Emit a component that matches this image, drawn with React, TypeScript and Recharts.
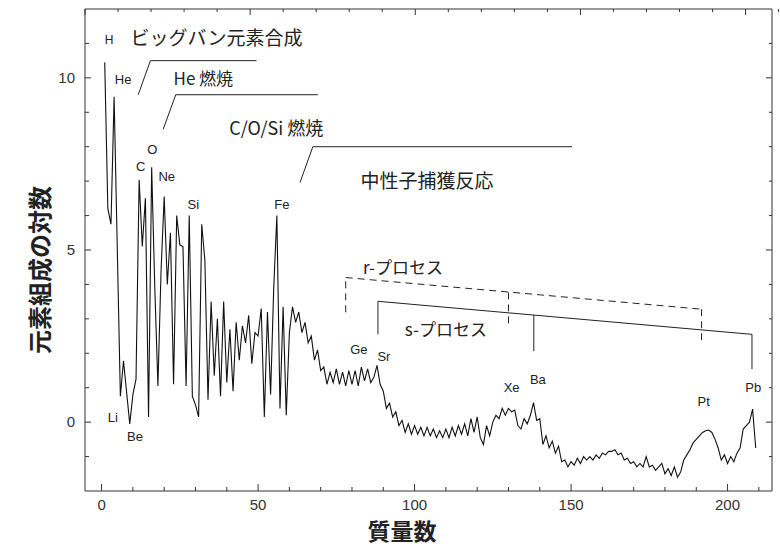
import { LineChart, Line, XAxis, YAxis, ReferenceLine, ReferenceDot, Label } from 'recharts';

// log abundance by mass number (index 0 = A 1); null where no stable nuclide
const LIGHT = [
  10.45, 6.2, 5.75, 9.45, null, 0.75, 1.78, null, -0.05, 0.8,
  1.25, 7.04, 5.1, 6.5, 0.15, 7.4, 3.9, 1.05, 4.4, 6.55,
  4.0, 5.5, 1.1, 6.0, 5.15, 5.1, 1.05, 6.0, 0.75, 0.5,
  0.15, 5.75, 4.7, 0.65, 3.5, 1.35, 3.0, 0.75, 3.5, 1.15,
];
const MID = [
  2.7, 0.9, 2.9, 1.8, 2.8, 2.3, 3.1, 1.7, 2.6, 2.5,
  3.3, 0.15, 3.2, 0.8, 3.9, 6.0, 0.4, 3.35, 0.2, 2.6,
  3.35, 2.9, 3.2, 2.6, 2.9, 2.3, 2.5, 1.8, 2.1, 1.5,
  1.6, 1.1, 1.45, 1.15, 1.55, 1.1, 1.45, 1.05, 1.5, 1.1,
  1.5, 1.05, 1.6, 1.2, 1.55, 1.15, 1.3, 1.65, 1.1, 0.9,
];
const HEAVY = [
  0.4, 0.55, 0.15, 0.3, -0.1, 0.05, -0.3, -0.05, -0.35, -0.1,
  -0.35, -0.15, -0.4, -0.15, -0.4, -0.2, -0.45, -0.25, -0.45, -0.2,
  -0.45, -0.15, -0.4, -0.1, -0.35, -0.05, -0.4, 0.1, -0.3, 0.15,
  -0.45, -0.65, -0.1, -0.4, 0.0, 0.2, 0.1, 0.4, 0.2, 0.4,
  0.3, 0.35, -0.1, -0.2, 0.1, -0.05, 0.2, 0.57, 0.05, 0.1,
  -0.65, -0.4, -0.75, -0.55, -0.9, -0.7, -1.15, -1.1, -1.3, -1.15,
];
const HEAVIEST = [
  -1.25, -1.05, -1.2, -1.0, -1.1, -1.0, -1.1, -0.95, -1.05, -0.9,
  -0.95, -0.85, -0.85, -0.8, -0.95, -0.9, -1.1, -1.05, -1.2, -1.15,
  -1.3, -1.2, -1.3, -1.0, -1.3, -1.25, -1.4, -1.3, -1.2, -1.5,
  -1.35, -1.55, -1.3, -1.6, -1.45, -1.1, -0.95, -0.8, -0.6, -0.5,
  -0.4, -0.3, -0.25, -0.23, -0.3, -0.5, -0.75, -1.1, -0.95, -1.2,
  -1.0, -1.15, -0.9, -0.75, -0.2, -0.1, 0.0, 0.38, -0.75,
];

const X_TICKS = [0, 10, 20, 30, 40, 50, 60, 70, 80, 90, 100, 110, 120, 130, 140, 150, 160, 170, 180, 190, 200, 210];
const Y_TICKS = [-1, 0, 1, 2, 3, 4, 5, 6, 7, 8, 9, 10, 11];

const ELEMENTS = [
  { name: 'H', a: 2.4, v: 11.1, size: 12 },
  { name: 'He', a: 6.9, v: 9.96, size: 13 },
  { name: 'Li', a: 3.6, v: 0.15, size: 13 },
  { name: 'Be', a: 10.7, v: -0.4, size: 13 },
  { name: 'C', a: 12.5, v: 7.42, size: 13 },
  { name: 'O', a: 16.2, v: 7.91, size: 13 },
  { name: 'Ne', a: 20.8, v: 7.14, size: 13 },
  { name: 'Si', a: 29.3, v: 6.32, size: 13 },
  { name: 'Fe', a: 57.6, v: 6.32, size: 13 },
  { name: 'Ge', a: 82.2, v: 2.1, size: 13 },
  { name: 'Sr', a: 90.2, v: 1.9, size: 13 },
  { name: 'Xe', a: 131, v: 1.0, size: 13 },
  { name: 'Ba', a: 139.4, v: 1.25, size: 13 },
  { name: 'Pt', a: 192.4, v: 0.6, size: 13 },
  { name: 'Pb', a: 208.2, v: 1.02, size: 13 },
];

const PROCESSES = [
  { name: 'ビッグバン元素合成', a: 36.7, v: 11.15, size: 19 },
  { name: 'He 燃焼', a: 32.5, v: 9.98, size: 17 },
  { name: 'C/O/Si 燃焼', a: 55.8, v: 8.52, size: 18 },
  { name: '中性子捕獲反応', a: 104, v: 6.99, size: 19 },
  { name: 'r-プロセス', a: 96.3, v: 4.49, size: 17 },
  { name: 's-プロセス', a: 110, v: 2.67, size: 17 },
];

const SOLID_BRACKETS = [
  [[11.7, 9.51], [15.6, 10.5], [49.5, 10.5]],
  [[19.7, 8.51], [23.7, 9.51], [69.1, 9.51]],
  [[63.4, 6.96], [67.5, 8.0], [150.3, 8.0]],
  [[88.3, 2.55], [88.3, 3.51], [207.8, 2.55], [207.8, 1.54]],
  [[138.1, 3.11], [138.1, 2.06]],
];
const DASHED_BRACKETS = [
  [[78, 3.19], [78, 4.2], [191.7, 3.28], [191.7, 2.35]],
  [[130, 3.77], [130, 2.78]],
];

const data = [...LIGHT, ...MID, ...HEAVY, ...HEAVIEST].map((v, i) => ({ a: i + 1, v }));

const LATIN = '"Liberation Sans", Arial, sans-serif';
const CJK = '"Noto Sans CJK JP", sans-serif';
const INK = '#222';

function BottomTick({ x, y, payload }: any) {
  const major = payload.value % 50 === 0;
  return (
    <g>
      <line x1={x} x2={x} y1={y} y2={y - (major ? 7 : 4)} stroke="#333" />
      {major && (
        <text x={x} y={y + 19} textAnchor="middle" fontSize={15} fontFamily={LATIN} fill="#333">
          {payload.value}
        </text>
      )}
    </g>
  );
}

function TopTick({ x, y, payload }: any) {
  const major = payload.value % 50 === 0;
  return <line x1={x} x2={x} y1={y} y2={y + (major ? 6 : 3)} stroke="#333" />;
}

function LeftTick({ x, y, payload }: any) {
  const major = payload.value % 5 === 0;
  return (
    <g>
      <line x1={x} x2={x + (major ? 6 : 4)} y1={y} y2={y} stroke="#333" />
      {major && (
        <text x={x - 10} y={y + 5} textAnchor="end" fontSize={15} fontFamily={LATIN} fill="#333">
          {payload.value}
        </text>
      )}
    </g>
  );
}

function RightTick({ x, y, payload }: any) {
  const major = payload.value % 5 === 0;
  return <line x1={x} x2={x - (major ? 6 : 3)} y1={y} y2={y} stroke="#333" />;
}

function segmentsOf(path: number[][]) {
  const out = [];
  for (let i = 0; i < path.length - 1; i++) {
    out.push([{ x: path[i][0], y: path[i][1] }, { x: path[i + 1][0], y: path[i + 1][1] }]);
  }
  return out;
}

export default function App() {
  return (
    <div style={{ position: 'absolute', left: 0, top: 0, background: '#fff' }}>
      <LineChart width={780} height={548} data={data} margin={{ top: 8, right: 7, bottom: 0, left: 84 }}>
        <XAxis
          xAxisId="b"
          type="number"
          dataKey="a"
          domain={[-5.3, 214.2]}
          allowDataOverflow
          ticks={X_TICKS}
          interval={0}
          height={57}
          tickLine={false}
          tickSize={0}
          tickMargin={0}
          tick={BottomTick}
          axisLine={{ stroke: '#333' }}
        >
          <Label
            content={() => (
              <text x={402} y={540} textAnchor="middle" fontSize={23} fontWeight={700} fontFamily={CJK} fill={INK}>
                質量数
              </text>
            )}
          />
        </XAxis>
        <XAxis
          xAxisId="t"
          orientation="top"
          type="number"
          domain={[-5.3, 214.2]}
          allowDataOverflow
          ticks={X_TICKS}
          interval={0}
          height={1}
          tickLine={false}
          tickSize={0}
          tickMargin={0}
          tick={TopTick}
          axisLine={{ stroke: '#333' }}
        />
        <YAxis
          yAxisId="l"
          type="number"
          domain={[-2, 12]}
          allowDataOverflow
          ticks={Y_TICKS}
          interval={0}
          width={1}
          tickLine={false}
          tickSize={0}
          tickMargin={0}
          tick={LeftTick}
          axisLine={{ stroke: '#333' }}
        >
          <Label
            content={() => (
              <text
                transform="translate(49,270) rotate(-90)"
                textAnchor="middle"
                fontSize={24}
                fontWeight={700}
                fontFamily={CJK}
                fill={INK}
              >
                元素組成の対数
              </text>
            )}
          />
        </YAxis>
        <YAxis
          yAxisId="r"
          orientation="right"
          type="number"
          domain={[-2, 12]}
          allowDataOverflow
          ticks={Y_TICKS}
          interval={0}
          width={1}
          tickLine={false}
          tickSize={0}
          tickMargin={0}
          tick={RightTick}
          axisLine={{ stroke: '#333' }}
        />

        {SOLID_BRACKETS.flatMap((p, i) =>
          segmentsOf(p).map((seg, j) => (
            <ReferenceLine
              key={`s-${i}-${j}`}
              xAxisId="b"
              yAxisId="l"
              segment={seg}
              stroke={INK}
              strokeWidth={1}
              ifOverflow="visible"
            />
          ))
        )}
        {DASHED_BRACKETS.flatMap((p, i) =>
          segmentsOf(p).map((seg, j) => (
            <ReferenceLine
              key={`d-${i}-${j}`}
              xAxisId="b"
              yAxisId="l"
              segment={seg}
              stroke={INK}
              strokeWidth={1}
              strokeDasharray="7 5"
              ifOverflow="visible"
            />
          ))
        )}

        <Line
          xAxisId="b"
          yAxisId="l"
          type="linear"
          dataKey="v"
          stroke="#111"
          strokeWidth={1.1}
          dot={false}
          connectNulls
          isAnimationActive={false}
        />

        {ELEMENTS.map((e) => (
          <ReferenceDot
            key={e.name}
            xAxisId="b"
            yAxisId="l"
            x={e.a}
            y={e.v}
            r={0}
            fill="none"
            stroke="none"
            ifOverflow="visible"
            label={{ value: e.name, position: 'center', fontSize: e.size, fontFamily: LATIN, fill: INK }}
          />
        ))}
        {PROCESSES.map((p) => (
          <ReferenceDot
            key={p.name}
            xAxisId="b"
            yAxisId="l"
            x={p.a}
            y={p.v}
            r={0}
            fill="none"
            stroke="none"
            ifOverflow="visible"
            label={{ value: p.name, position: 'center', fontSize: p.size, fontFamily: CJK, fill: INK }}
          />
        ))}
      </LineChart>
    </div>
  );
}
